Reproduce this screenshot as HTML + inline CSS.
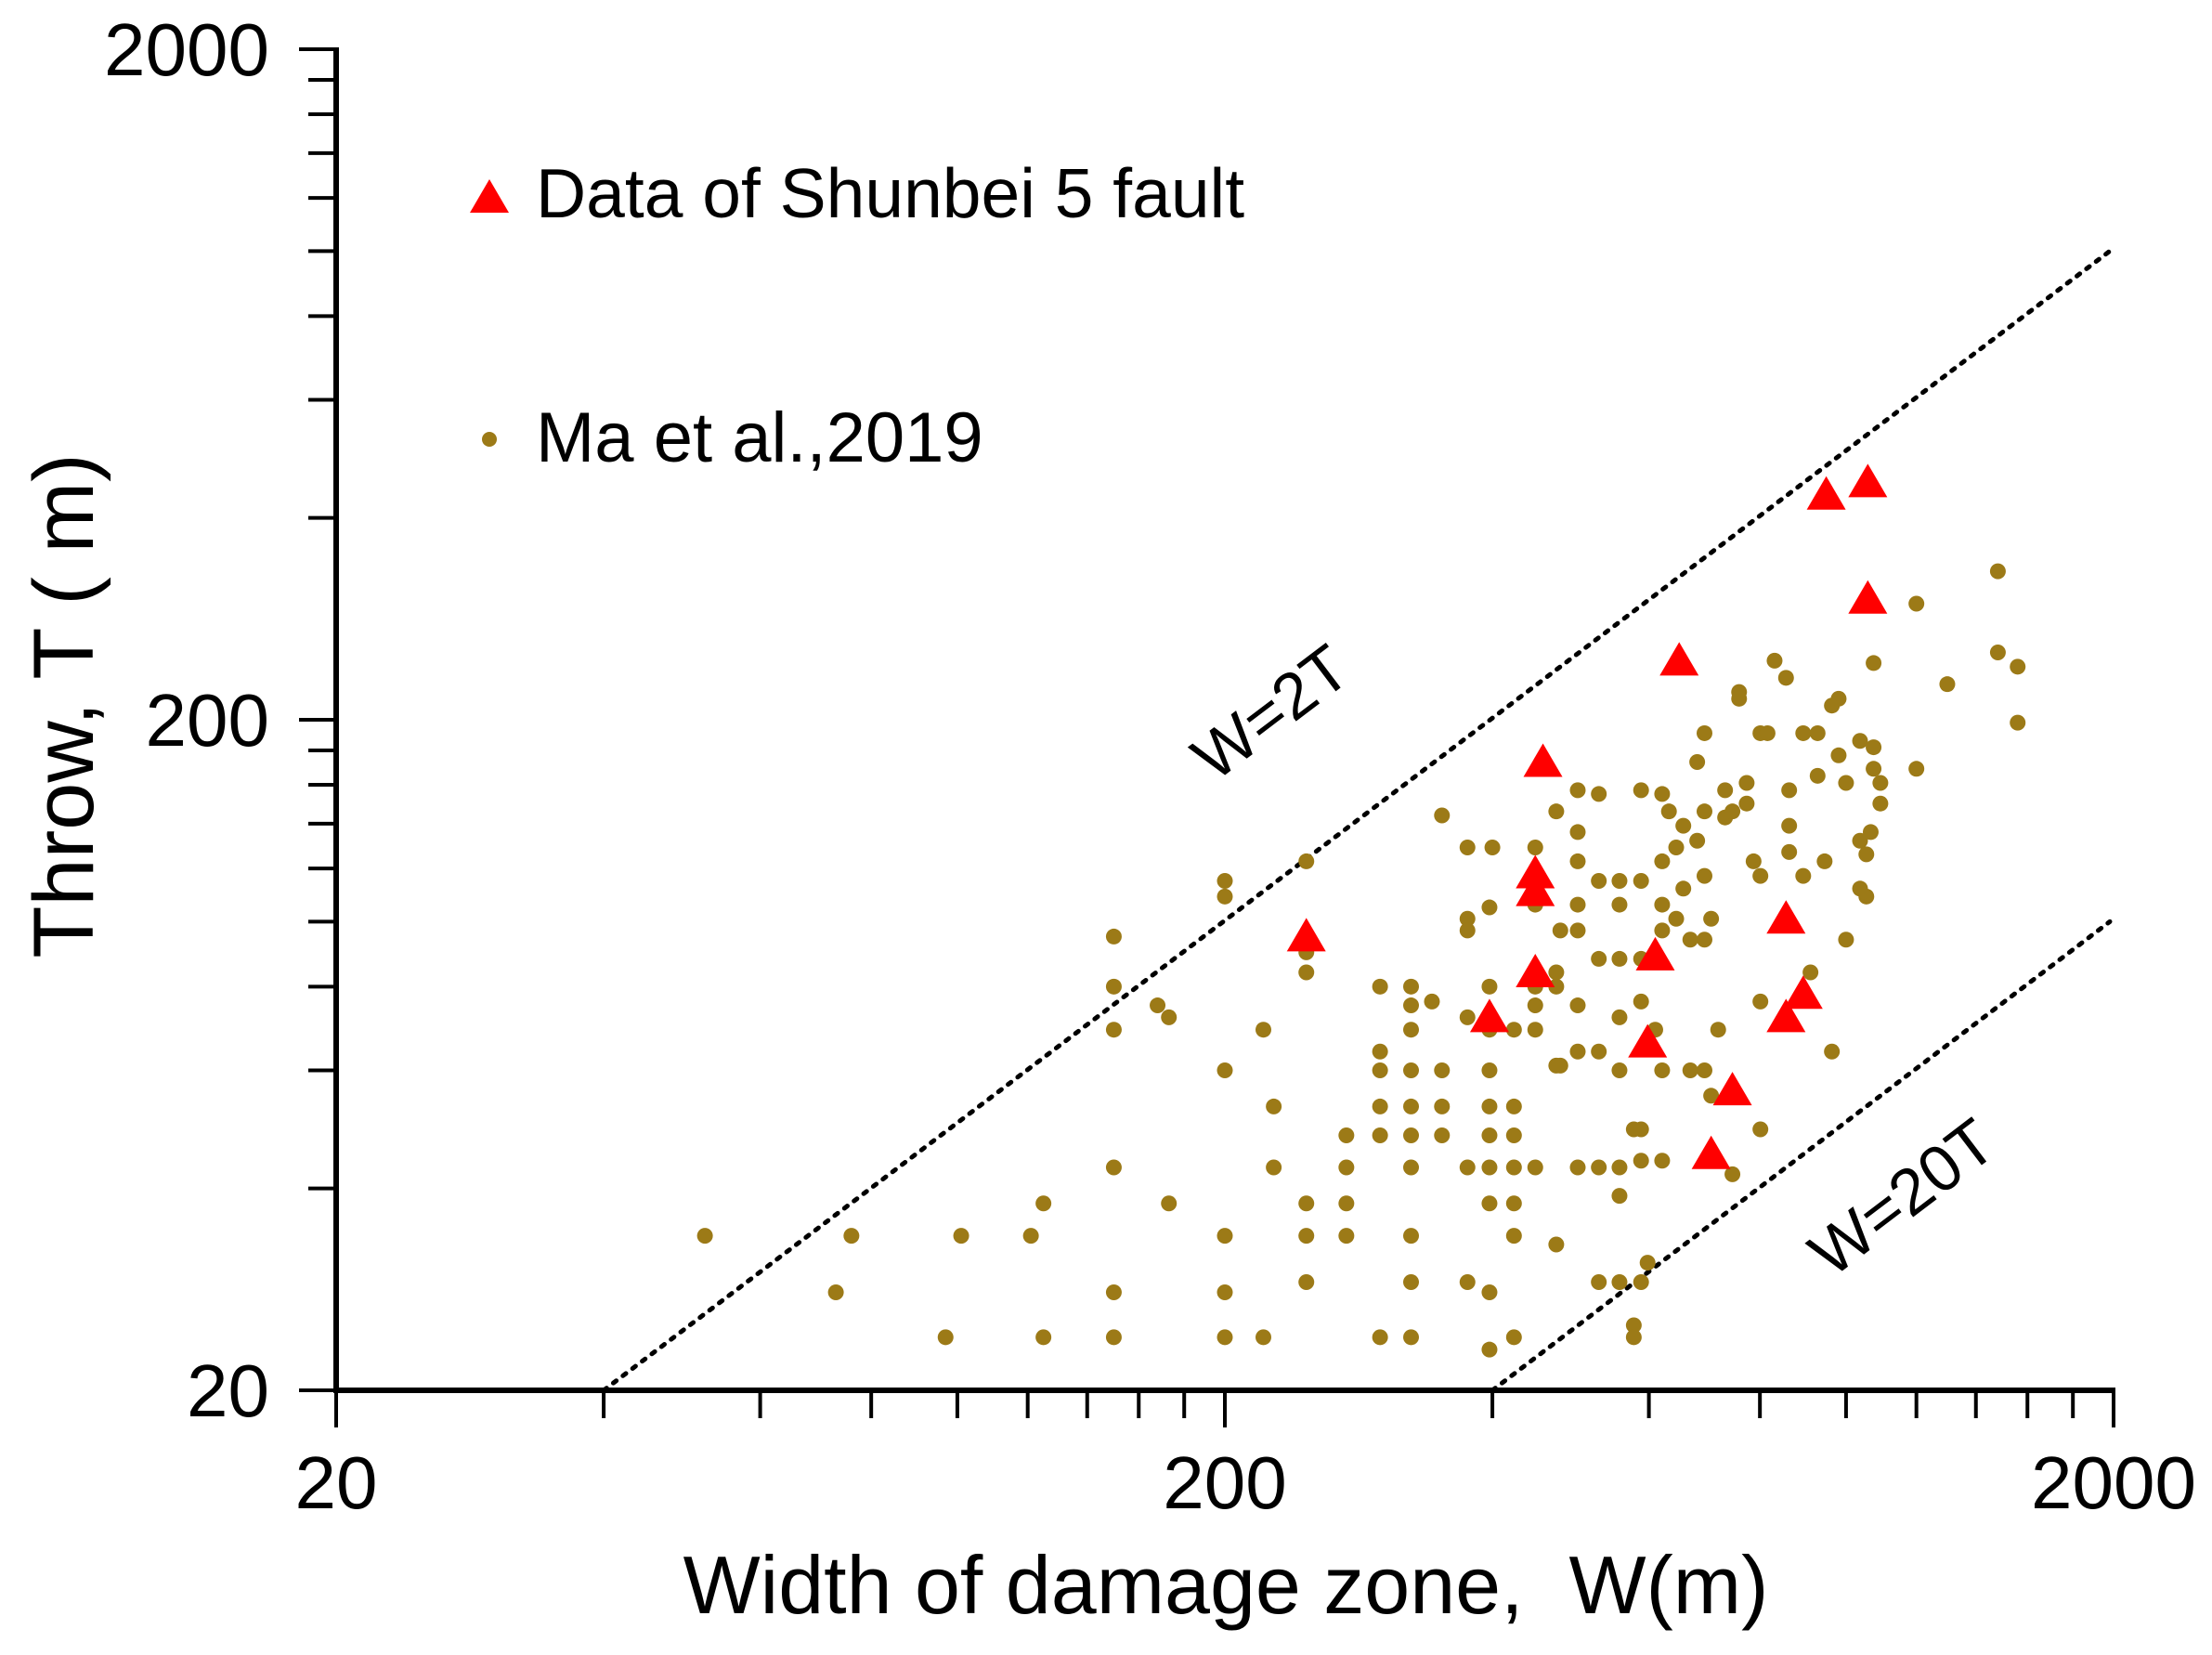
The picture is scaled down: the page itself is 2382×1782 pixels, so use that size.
<!DOCTYPE html>
<html><head><meta charset="utf-8"><style>
html,body{margin:0;padding:0;background:#fff;}
svg{display:block;font-family:"Liberation Sans",sans-serif;}
</style></head><body>
<svg id="chart" width="2382" height="1782" viewBox="0 0 2382 1782" xmlns="http://www.w3.org/2000/svg">
<g id="axes"></g>
<g id="lines"></g>
<g id="dots"></g>
<g id="tris"></g>
<text x="1320" y="1737" font-size="88" text-anchor="middle" xml:space="preserve">Width of damage zone,  W(m)</text>
<text x="0" y="0" font-size="92" text-anchor="middle" transform="translate(100,760) rotate(-90)">Throw, T ( m)</text>
<g>
<polygon points="506,229 548,229 527,193" fill="#ff0000"/>
<text x="577" y="234" font-size="75">Data of Shunbei 5 fault</text>
<circle cx="527" cy="473" r="8" fill="#9c7a17"/>
<text x="577" y="497" font-size="76">Ma et al.,2019</text>
</g>
</svg>
<script>
const xTicks=[20,200,2000];
const yTicks=[20,200,2000];
const maW=[52,73,76,97,101,121,125,125,150,150,150,150,150,150,168,173,173,200,200,200,200,200,200,221,221,227,227,247,247,247,247,247,274,274,274,274,299,299,299,299,299,299,324,324,324,324,324,324,324,324,324,324,351,351,351,351,375,375,375,375,375,397,397,397,397,397,397,397,397,397,397,423,423,423,423,423,423,423,397,447,447,447,447,447,447,472,472,472,472,477,499,499,499,499,499,499,499,499,527,527,527,527,527,527,556,556,556,556,556,556,556,577,588,588,588,588,588,588,588,577,577,598,610,621,621,621,621,621,621,632,644,644,656,656,668,668,680,680,693,693,693,693,693,705,705,718,731,731,745,745,758,758,773,773,787,801,801,816,831,856,863,863,863,895,895,801,801,912,929,929,946,964,964,981,981,1000,1000,1037,1037,1037,1054,1054,1066,1074,1074,1074,1093,1093,1200,1200,1300,1482,1482,1560,1560,247,342,400,447,375,477,556,472];
const maT=[34,28,34,24,34,34,38,24,24,28,43,69,80,95,75,72,38,24,28,34,60,109,115,24,69,53,43,84,90,38,34,29,48,43,38,34,80,64,60,53,48,24,80,75,69,60,53,48,43,34,29,24,144,60,53,48,129,101,97,43,29,80,72,69,60,53,48,43,38,28,23,69,53,48,43,38,34,24,105,129,106,80,75,69,43,146,80,84,33,61,157,136,123,106,97,75,64,43,155,115,88,64,43,29,106,115,72,60,43,39,29,49,157,115,88,76,49,44,29,25,24,31,69,155,123,106,97,60,44,146,129,101,139,112,94,60,173,132,191,146,117,94,60,101,55,69,157,143,146,42,220,215,150,161,123,117,191,191,245,231,157,139,127,191,117,76,49,84,165,191,123,210,64,177,215,161,94,186,132,112,126,109,136,243,182,169,150,161,298,169,226,333,252,240,198,123,76,129,117,72,97,88,61];
const sbW=[247,397,447,447,447,456,610,598,649,705,745,856,856,895,950,1058,1058];
const sbT=[95,72,118,111,84,173,89,66,245,45,56,101,72,78,433,452,303];
const refRatio=[2,20];
const refLabel=["W=2T","W=20T"];

const NS="http://www.w3.org/2000/svg";
const X0=362,XD=957,Y0=1497,YD=722;
function xs(v){return X0+XD*Math.log10(v/20);}
function ys(v){return Y0-YD*Math.log10(v/20);}
function mk(tag,attrs,parent){const e=document.createElementNS(NS,tag);for(const k in attrs)e.setAttribute(k,attrs[k]);parent.appendChild(e);return e;}
const axes=document.getElementById('axes');
let e;
e=mk('line',{x1:X0,y1:ys(2000)-2,x2:X0,y2:Y0+3,stroke:'#000','stroke-width':6},axes);


e=mk('line',{x1:X0-3,y1:Y0,x2:xs(2000)+2,y2:Y0,stroke:'#000','stroke-width':6},axes);


for(const dec of [20,200]){
  for(let m=1;m<10;m++){
    const v=dec*m;
    const major=(m===1);
    e=mk('line',{x1:major?X0-40:X0-30,y1:ys(v),x2:X0,y2:ys(v),stroke:'#000','stroke-width':4},axes);
    
    
    e=mk('line',{x1:xs(v),y1:Y0,x2:xs(v),y2:major?Y0+40:Y0+30,stroke:'#000','stroke-width':4},axes);
    
    
  }
}
e=mk('line',{x1:X0-40,y1:ys(2000),x2:X0,y2:ys(2000),stroke:'#000','stroke-width':4},axes);


e=mk('line',{x1:xs(2000),y1:Y0,x2:xs(2000),y2:Y0+40,stroke:'#000','stroke-width':4},axes);


for(const t of yTicks){
  e=mk('text',{x:290,y:ys(t)+28,'font-size':80,'text-anchor':'end'},axes);
  e.textContent=t;
  
  
}
for(const t of xTicks){
  e=mk('text',{x:xs(t),y:1624,'font-size':80,'text-anchor':'middle'},axes);
  e.textContent=t;
  
  
}
const lines=document.getElementById('lines');
const labelW=[280,1000];
const labelOff=[-150,100];
refRatio.forEach((r,i)=>{
  const wA=20*r, tA=20;
  const wEnd=2000;
  const x1=xs(wA),y1=ys(tA),x2=xs(wEnd)-4,y2=ys(wEnd/r);
  e=mk('line',{x1:x1,y1:y1,x2:x2,y2:y2,stroke:'#000','stroke-width':5,'stroke-dasharray':'4 9','stroke-linecap':'round'},lines);
  
  
  const a=Math.atan2(y2-y1,x2-x1);
  const ang=a*180/Math.PI;
  const nx=-Math.sin(a), ny=Math.cos(a);
  const cx=xs(labelW[i])+nx*labelOff[i], cy=ys(labelW[i]/r)+ny*labelOff[i];
  e=mk('text',{x:cx,y:cy+24,'font-size':70,'text-anchor':'middle',transform:`rotate(${ang} ${cx} ${cy})`},lines);
  e.textContent=refLabel[i];
  
  
});
const dots=document.getElementById('dots');
maW.forEach((w,i)=>{
  e=mk('circle',{cx:xs(w),cy:ys(maT[i]),r:8.5,fill:'#9c7a17'},dots);
  
  
});
const tris=document.getElementById('tris');
sbW.forEach((w,i)=>{
  const x=xs(w),y=ys(sbT[i]);
  e=mk('polygon',{points:`${x-21},${y+16} ${x+21},${y+16} ${x},${y-20}`,fill:'#ff0000'},tris);
  
  
});
</script>
</body></html>
